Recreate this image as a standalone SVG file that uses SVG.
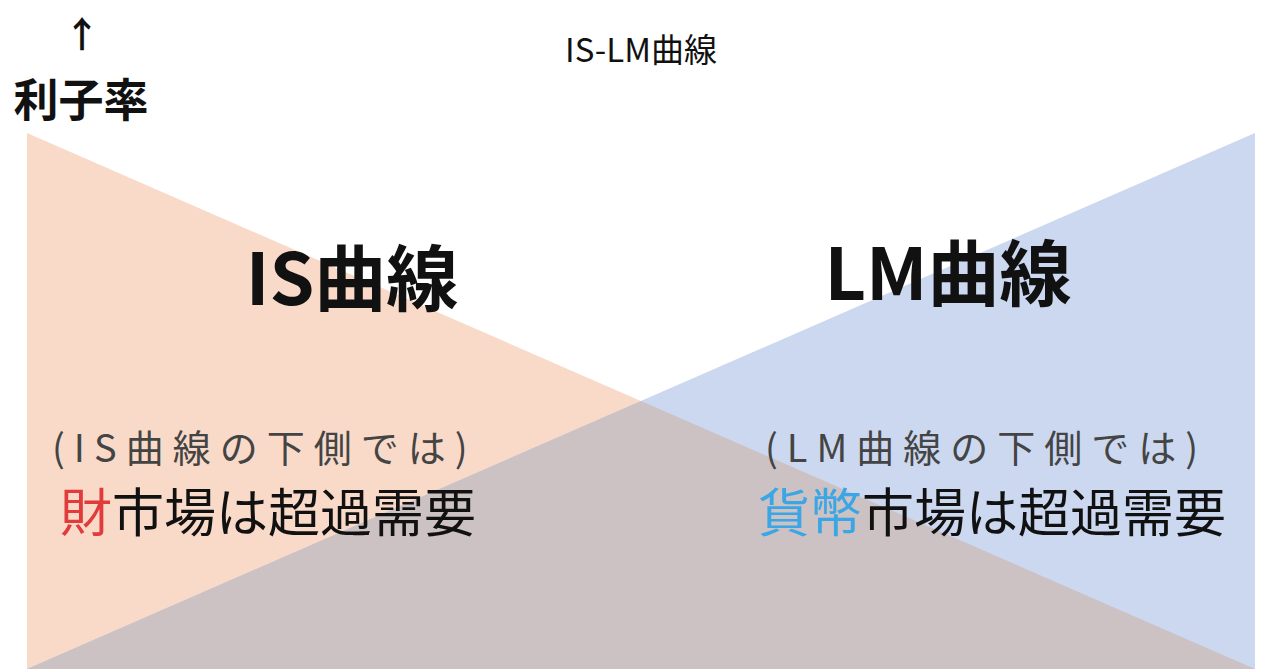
<svg xmlns="http://www.w3.org/2000/svg" width="1280" height="669" viewBox="0 0 1280 669">
<style>
text{font-family:"Noto Sans CJK JP","Noto Sans",sans-serif;fill:#111}
.big{font-size:72px;font-weight:bold;text-anchor:middle}
.sub{font-size:38px;fill:#444;letter-spacing:9px}
.mk{font-size:52px}
</style>
<rect width="1280" height="669" fill="#fff"/>
<polygon points="27,133 27,669 1255,669" fill="#f9dac9"/>
<polygon points="1255,133 1255,669 27,669" fill="#cbd8ef"/>
<polygon points="27,669 1255,669 641,401" fill="#ccc1c3"/>
<text x="641" y="62" font-size="33" text-anchor="middle">IS-LM曲線</text>
<text x="82" y="48" font-size="36" font-weight="bold" text-anchor="middle">↑</text>
<text x="81" y="117" font-size="45" font-weight="bold" text-anchor="middle">利子率</text>
<text x="352" y="305" class="big">IS曲線</text>
<text x="948" y="300" class="big">LM曲線</text>
<text x="52" y="462" class="sub">(IS曲線の下側では)</text>
<text x="765" y="462" class="sub">(LM曲線の下側では)</text>
<text x="60" y="532" class="mk"><tspan fill="#e23b3b">財</tspan>市場は超過需要</text>
<text x="758" y="532" class="mk"><tspan fill="#3ba6e6">貨幣</tspan>市場は超過需要</text>
</svg>
